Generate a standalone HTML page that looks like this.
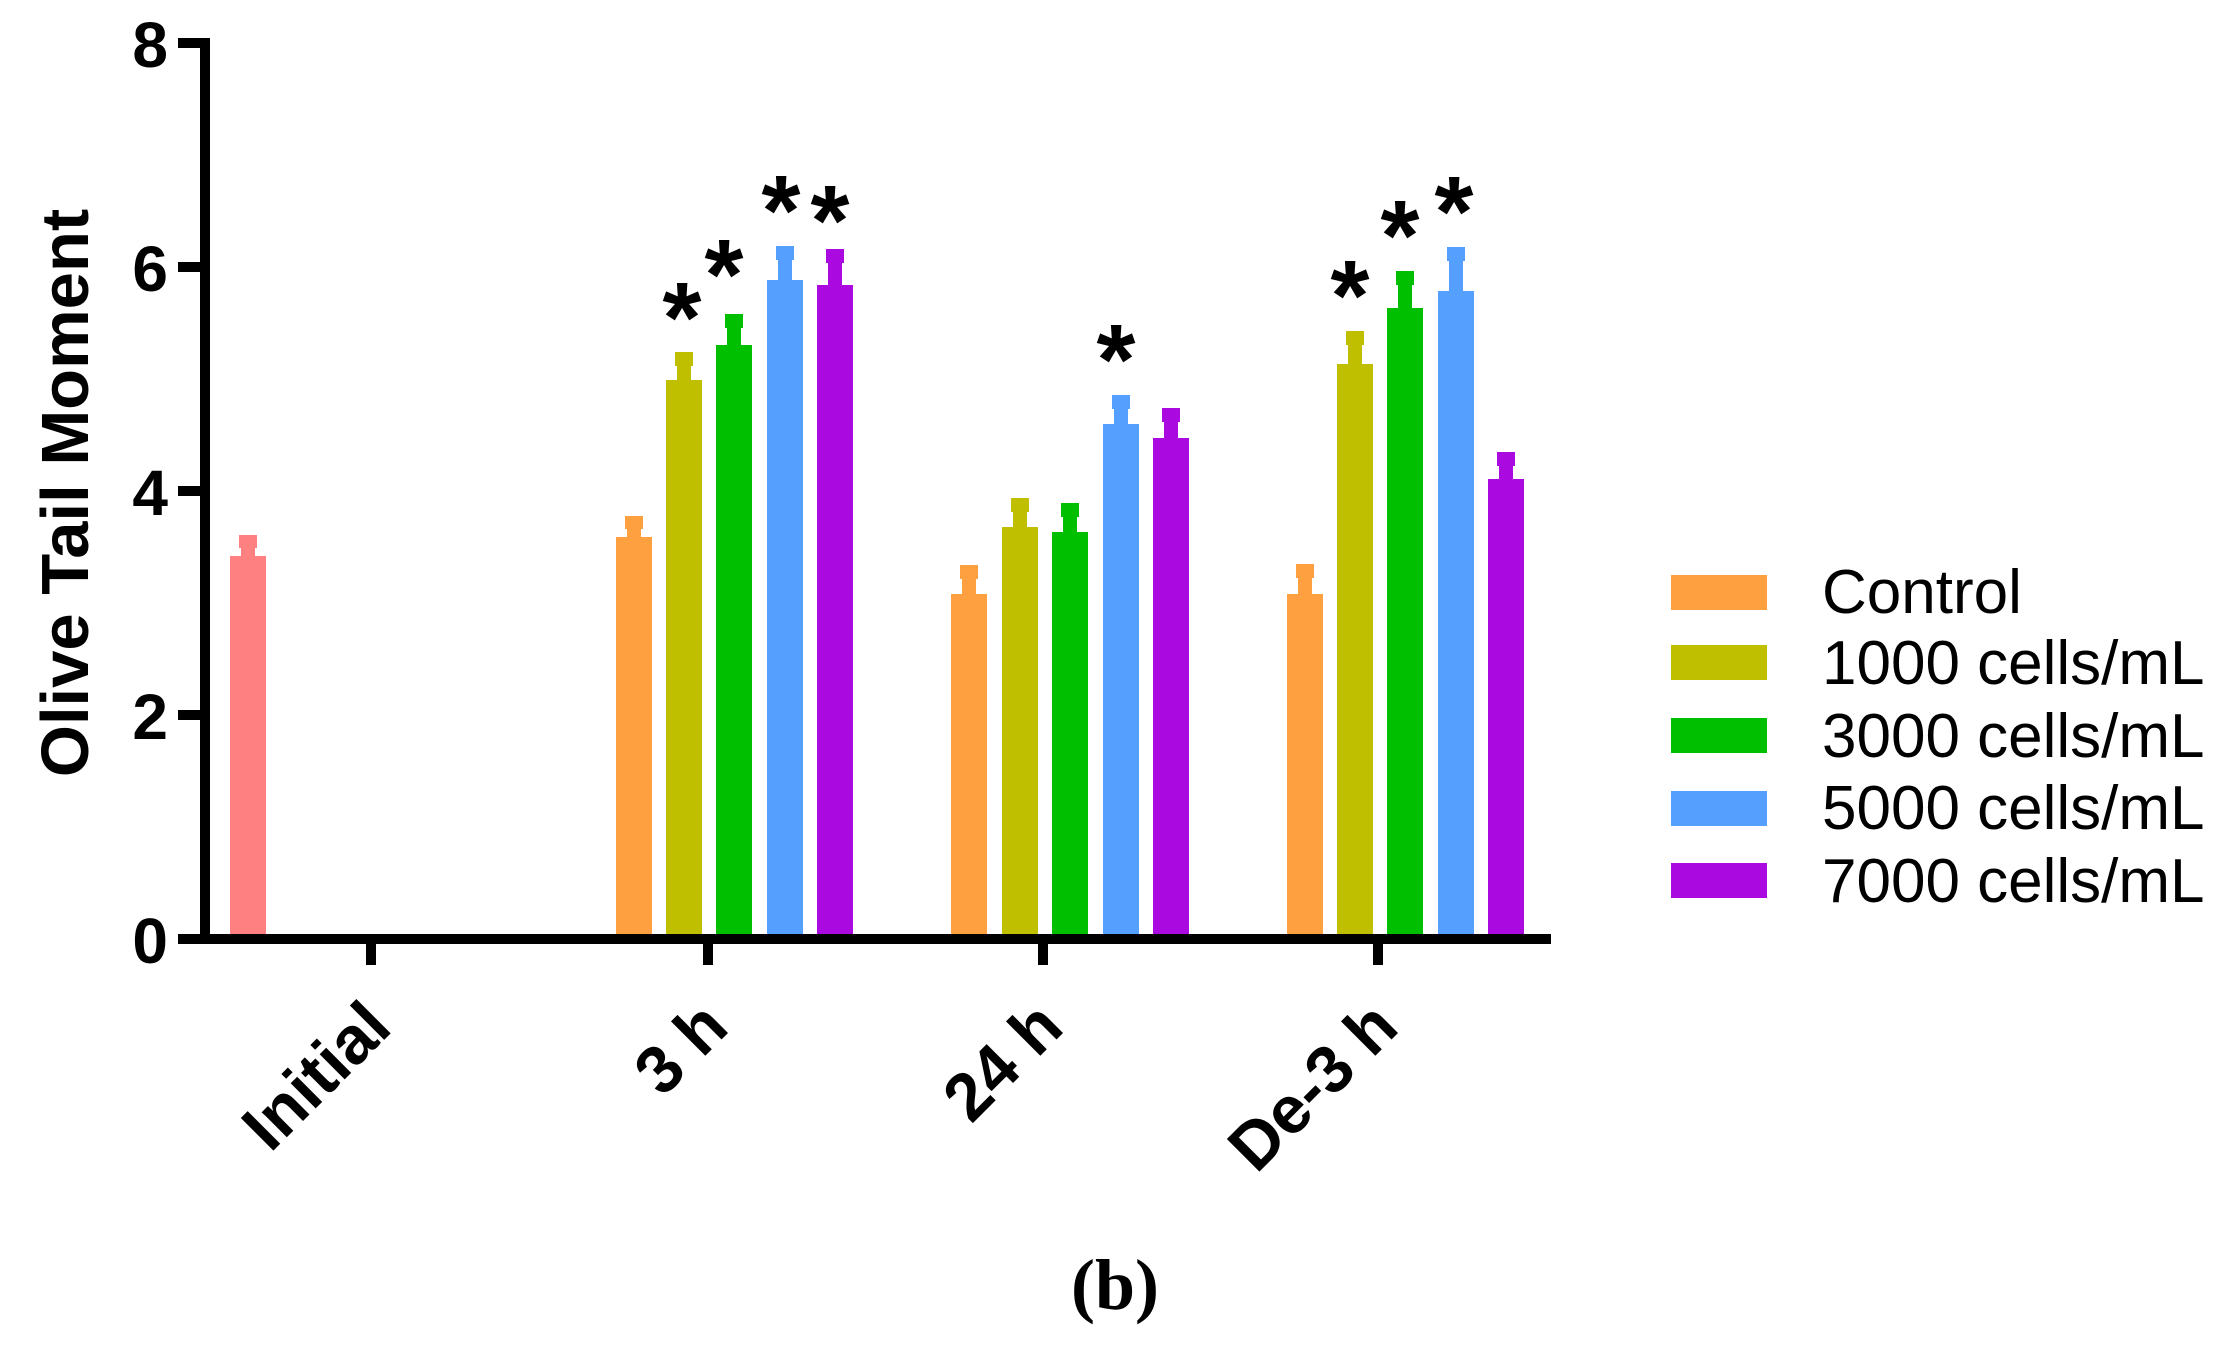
<!DOCTYPE html>
<html><head><meta charset="utf-8"><style>html,body{margin:0;padding:0;background:#fff}svg{display:block}</style></head>
<body>
<svg xmlns="http://www.w3.org/2000/svg" width="2228" height="1349" viewBox="0 0 2228 1349">
<rect width="2228" height="1349" fill="#fff"/>
<g fill="#000">
<rect x="200" y="38" width="10" height="906"/>
<rect x="200" y="934" width="1351" height="10"/>
<rect x="178" y="38" width="32" height="10"/>
<rect x="178" y="262" width="32" height="10"/>
<rect x="178" y="486" width="32" height="10"/>
<rect x="178" y="710" width="32" height="10"/>
<rect x="178" y="934" width="32" height="10"/>
<rect x="366" y="934" width="10" height="31"/>
<rect x="703" y="934" width="10" height="31"/>
<rect x="1038" y="934" width="10" height="31"/>
<rect x="1373" y="934" width="10" height="31"/>
</g>
<g font-family="Liberation Sans, Arial, sans-serif" font-weight="bold" font-size="64" fill="#000" text-anchor="end">
<text x="168" y="67">8</text>
<text x="168" y="291">6</text>
<text x="168" y="515">4</text>
<text x="168" y="739">2</text>
<text x="168" y="963">0</text>
</g>
<text transform="translate(88,493) rotate(-90)" font-family="Liberation Sans, Arial, sans-serif" font-weight="bold" font-size="67" text-anchor="middle">Olive Tail Moment</text>
<g font-family="Liberation Sans, Arial, sans-serif" font-weight="bold" font-size="67" text-anchor="end">
<text transform="translate(394,1030) rotate(-45)">Initial</text>
<text transform="translate(731,1030) rotate(-45)">3 h</text>
<text transform="translate(1066,1030) rotate(-45)">24 h</text>
<text transform="translate(1401,1030) rotate(-45)">De-3 h</text>
</g>
<g>
<rect x="230" y="556" width="36" height="378" fill="#FF8080"/><rect x="241" y="535" width="14" height="25" fill="#FF8080"/><rect x="239" y="535" width="18" height="13" fill="#FF8080"/>
<rect x="616" y="537" width="36" height="397" fill="#FFA040"/><rect x="627" y="516" width="14" height="25" fill="#FFA040"/><rect x="625" y="516" width="18" height="13" fill="#FFA040"/>
<rect x="666" y="380" width="36" height="554" fill="#BFBF00"/><rect x="677" y="352" width="14" height="32" fill="#BFBF00"/><rect x="675" y="352" width="18" height="14" fill="#BFBF00"/>
<rect x="716" y="345" width="36" height="589" fill="#00BF00"/><rect x="727" y="314" width="14" height="35" fill="#00BF00"/><rect x="725" y="314" width="18" height="14" fill="#00BF00"/>
<rect x="767" y="280" width="36" height="654" fill="#55A0FF"/><rect x="778" y="246" width="14" height="38" fill="#55A0FF"/><rect x="776" y="246" width="18" height="14" fill="#55A0FF"/>
<rect x="817" y="285" width="36" height="649" fill="#AA0AE0"/><rect x="828" y="249" width="14" height="40" fill="#AA0AE0"/><rect x="826" y="249" width="18" height="14" fill="#AA0AE0"/>
<rect x="951" y="594" width="36" height="340" fill="#FFA040"/><rect x="962" y="565" width="14" height="33" fill="#FFA040"/><rect x="960" y="565" width="18" height="14" fill="#FFA040"/>
<rect x="1002" y="527" width="36" height="407" fill="#BFBF00"/><rect x="1013" y="498" width="14" height="33" fill="#BFBF00"/><rect x="1011" y="498" width="18" height="14" fill="#BFBF00"/>
<rect x="1052" y="532" width="36" height="402" fill="#00BF00"/><rect x="1063" y="503" width="14" height="33" fill="#00BF00"/><rect x="1061" y="503" width="18" height="14" fill="#00BF00"/>
<rect x="1103" y="424" width="36" height="510" fill="#55A0FF"/><rect x="1114" y="395" width="14" height="33" fill="#55A0FF"/><rect x="1112" y="395" width="18" height="14" fill="#55A0FF"/>
<rect x="1153" y="438" width="36" height="496" fill="#AA0AE0"/><rect x="1164" y="408" width="14" height="34" fill="#AA0AE0"/><rect x="1162" y="408" width="18" height="14" fill="#AA0AE0"/>
<rect x="1287" y="594" width="36" height="340" fill="#FFA040"/><rect x="1298" y="564" width="14" height="34" fill="#FFA040"/><rect x="1296" y="564" width="18" height="14" fill="#FFA040"/>
<rect x="1337" y="364" width="36" height="570" fill="#BFBF00"/><rect x="1348" y="331" width="14" height="37" fill="#BFBF00"/><rect x="1346" y="331" width="18" height="14" fill="#BFBF00"/>
<rect x="1387" y="308" width="36" height="626" fill="#00BF00"/><rect x="1398" y="271" width="14" height="41" fill="#00BF00"/><rect x="1396" y="271" width="18" height="14" fill="#00BF00"/>
<rect x="1438" y="291" width="36" height="643" fill="#55A0FF"/><rect x="1449" y="247" width="14" height="48" fill="#55A0FF"/><rect x="1447" y="247" width="18" height="14" fill="#55A0FF"/>
<rect x="1488" y="479" width="36" height="455" fill="#AA0AE0"/><rect x="1499" y="452" width="14" height="31" fill="#AA0AE0"/><rect x="1497" y="452" width="18" height="14" fill="#AA0AE0"/>
</g>
<g font-family="Liberation Sans, Arial, sans-serif" font-weight="bold" font-size="100" text-anchor="middle">
<text x="682" y="352">*</text>
<text x="724" y="309">*</text>
<text x="781" y="245">*</text>
<text x="830" y="255">*</text>
<text x="1116" y="394">*</text>
<text x="1350" y="330">*</text>
<text x="1400" y="270">*</text>
<text x="1454" y="246">*</text>
</g>
<g>
<rect x="1671" y="575" width="96" height="35" fill="#FFA040"/>
<rect x="1671" y="645" width="96" height="35" fill="#BFBF00"/>
<rect x="1671" y="718" width="96" height="35" fill="#00BF00"/>
<rect x="1671" y="791" width="96" height="35" fill="#55A0FF"/>
<rect x="1671" y="863" width="96" height="35" fill="#AA0AE0"/>
</g>
<g font-family="Liberation Sans, Arial, sans-serif" font-size="62" fill="#000">
<text x="1822" y="613">Control</text>
<text x="1822" y="684">1000 cells/mL</text>
<text x="1822" y="757">3000 cells/mL</text>
<text x="1822" y="829">5000 cells/mL</text>
<text x="1822" y="902">7000 cells/mL</text>
</g>
<text x="1115" y="1309" font-family="Liberation Serif, Times New Roman, serif" font-weight="bold" font-size="72" text-anchor="middle">(b)</text>
</svg>
</body></html>
